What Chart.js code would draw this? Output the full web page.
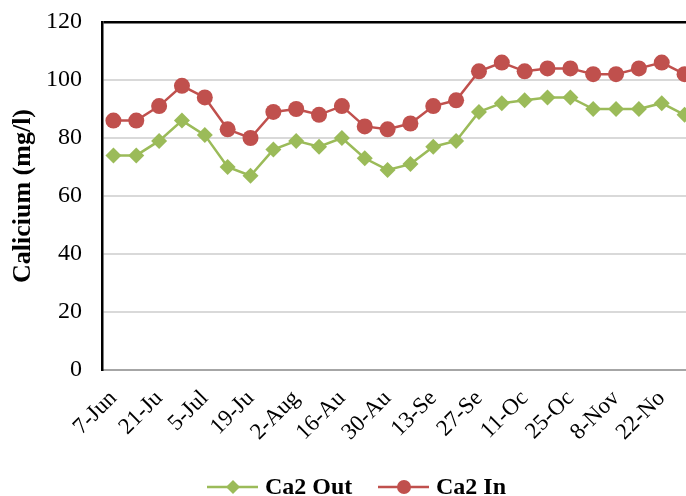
<!DOCTYPE html>
<html>
<head>
<meta charset="utf-8">
<script src="https://cdn.jsdelivr.net/npm/chart.js@4"></script>
<style>
  html, body { margin: 0; padding: 0; background: #fff; overflow: hidden; }
  #wrap { width: 704px; height: 496px; }
</style>
</head>
<body>
<div id="wrap"><canvas id="chart" width="704" height="496"></canvas></div>
<script>
// weekly samples, only every other label is shown (as in the sheet)
const dates = ["7-Jun", "14-Jun", "21-Ju", "28-Jun", "5-Jul", "12-Jul", "19-Ju", "26-Jul",
  "2-Aug", "9-Aug", "16-Au", "23-Aug", "30-Au", "6-Sep", "13-Se", "20-Sep",
  "27-Se", "4-Oct", "11-Oc", "18-Oct", "25-Oc", "1-Nov", "8-Nov", "15-Nov", "22-No", "29-Nov"];
const ca2Out = [74, 74, 79, 86, 81, 70, 67, 76, 79, 77, 80, 73, 69, 71, 77, 79,
  89, 92, 93, 94, 94, 90, 90, 90, 92, 88];
const ca2In = [86, 86, 91, 98, 94, 83, 80, 89, 90, 88, 91, 84, 83, 85, 91, 93,
  103, 106, 103, 104, 104, 102, 102, 104, 106, 102];
const yTicks = [0, 20, 40, 60, 80, 100, 120];

const GREEN = "#9BBB59";
const RED = "#C0504D";
const FONT = "'Liberation Serif', 'Times New Roman', serif";

// excel-like legend: short line with the marker in the middle
const lineLegend = {
  id: "lineLegend",
  afterDraw(chart) {
    const ctx = chart.ctx;
    const y = 487;
    const items = [{ x: 207, ds: 0 }, { x: 378, ds: 1 }];
    ctx.save();
    items.forEach(it => {
      const ds = chart.data.datasets[it.ds];
      const cx = it.x + 26;
      ctx.strokeStyle = ds.borderColor;
      ctx.lineWidth = 2.5;
      ctx.beginPath();
      ctx.moveTo(it.x, y);
      ctx.lineTo(it.x + 51, y);
      ctx.stroke();
      ctx.fillStyle = ds.backgroundColor;
      ctx.beginPath();
      if (ds.pointStyle === "circle") {
        ctx.arc(cx, y, 7, 0, Math.PI * 2);
      } else {
        ctx.moveTo(cx, y - 7); ctx.lineTo(cx + 7, y);
        ctx.lineTo(cx, y + 7); ctx.lineTo(cx - 7, y);
        ctx.closePath();
      }
      ctx.fill();
      ctx.fillStyle = "#000";
      ctx.font = "bold 24px " + FONT;
      ctx.textBaseline = "middle";
      ctx.textAlign = "left";
      ctx.fillText(ds.label, it.x + 58, y + 1);
    });
    ctx.restore();
  }
};

new Chart(document.getElementById("chart"), {
  type: "line",
  data: {
    labels: dates,
    datasets: [{
      label: "Ca2 Out",
      data: ca2Out,
      borderColor: GREEN,
      backgroundColor: GREEN,
      borderWidth: 2.5,
      pointStyle: "rectRot",
      pointRadius: 8,
      pointBorderWidth: 0,
      tension: 0
    }, {
      label: "Ca2 In",
      data: ca2In,
      borderColor: RED,
      backgroundColor: RED,
      borderWidth: 2.5,
      pointStyle: "circle",
      pointRadius: 8,
      pointBorderWidth: 0,
      tension: 0
    }]
  },
  options: {
    responsive: false,
    animation: false,
    layout: { padding: { top: 22, right: 0, bottom: 38, left: 0 } },
    plugins: {
      legend: { display: false },
      tooltip: { enabled: false }
    },
    scales: {
      x: {
        offset: true,
        grid: { display: false, offset: true },
        border: { display: true, color: "#a6a6a6", width: 2 },
        ticks: {
          autoSkip: false,
          maxRotation: 45,
          minRotation: 45,
          color: "#000",
          font: { family: FONT, size: 23 },
          padding: 7,
          callback: function (value, index) {
            return index % 2 === 0 ? this.getLabelForValue(value) : "";
          }
        },
        afterFit: s => { s.height = 88; s.paddingRight = 0; s.paddingLeft = 0; }
      },
      y: {
        min: 0,
        max: 120,
        afterBuildTicks: s => { s.ticks = yTicks.map(v => ({ value: v })); },
        grid: {
          color: c => c.tick && c.tick.value === 120 ? "#000" : "#d9d9d9",
          lineWidth: c => c.tick && c.tick.value === 120 ? 2.5 : 2,
          drawTicks: false
        },
        border: { display: true, color: "#000", width: 2.5 },
        ticks: {
          color: "#000",
          font: { family: FONT, size: 24 },
          padding: 20
        },
        title: {
          display: true,
          text: "Calicium (mg/l)",
          color: "#000",
          font: { family: FONT, size: 26, weight: "bold" },
          padding: { top: 8, bottom: 0 }
        },
        afterFit: s => { s.width = 102; s.paddingTop = 0; s.paddingBottom = 0; }
      }
    }
  },
  plugins: [lineLegend]
});
</script>
</body>
</html>
